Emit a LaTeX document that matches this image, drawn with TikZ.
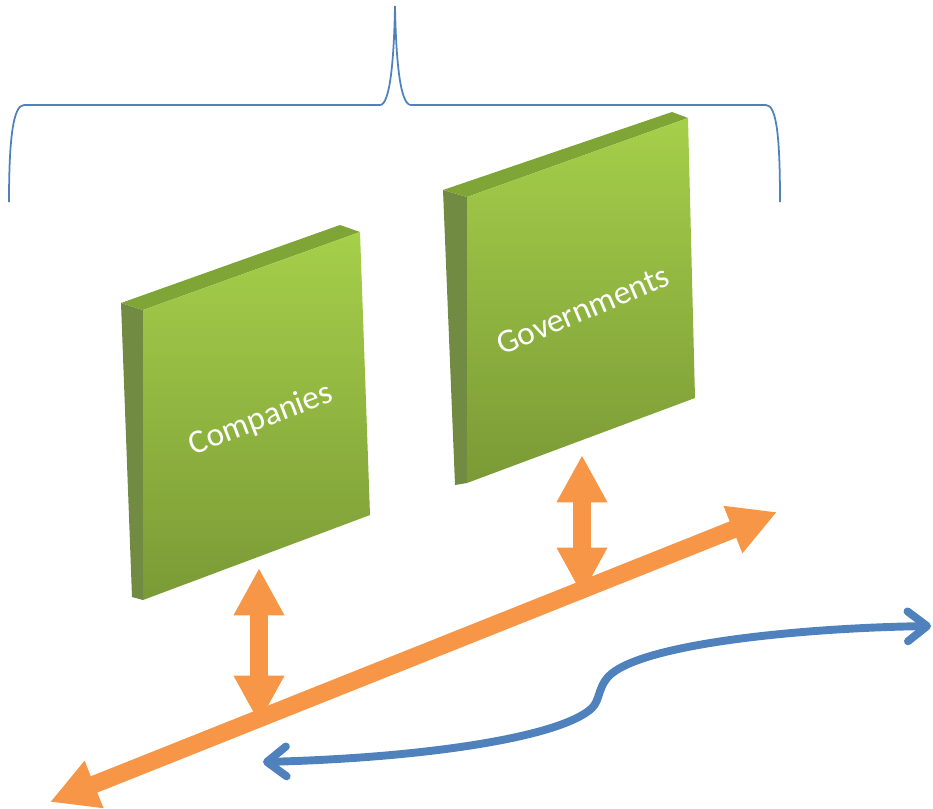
\documentclass[tikz,border=0pt]{standalone}
\usepackage{fontspec}
\setmainfont{Carlito}
\usetikzlibrary{arrows.meta}

\definecolor{bracecol}{HTML}{4F81BD}
\definecolor{linkcol}{HTML}{F79646}
\definecolor{slabtop}{HTML}{A6CF4A}
\definecolor{slabbot}{HTML}{7A9A36}
\definecolor{slabside}{HTML}{718C42}
\definecolor{slabedge}{HTML}{7FA536}

\tikzset{
	link/.style={line width=10pt, draw=linkcol, {Triangle[width=27pt,length=27pt]}-{Triangle[width=27pt,length=27pt]}},
	backlink/.style={line width=4.5pt, draw=bracecol, line cap=round, {Straight Barb[length=11pt,width=17pt,round]}-{Straight Barb[length=11pt,width=17pt,round]}},
	slablabel/.style={text=white, font=\fontsize{19}{22}\selectfont, inner sep=0pt},
}

\begin{document}
\begin{tikzpicture}[x=0.02cm,y=-0.02cm]
			\useasboundingbox (0,0) rectangle (933,808);
			% brace over both slabs
			\coordinate (bracetip) at (395,6);
			\draw[bracecol, line width=1pt] (9,202) .. controls (9,140) and (13,105) .. (24,105) -- (380,105) .. controls (390,105) and (394,60) .. (bracetip) .. controls (396,60) and (400,105) .. (411,105) -- (766,105) .. controls (777,105) and (780,140) .. (780,202);
			% Companies slab
			\fill[slabside] (121,303) -- (143,310) -- (143,600) -- (132,597) -- cycle;
			\fill[slabedge] (121,303) -- (340,225) -- (360,232) -- (143,310) -- cycle;
			\shade[top color=slabtop, bottom color=slabbot] (143,310) -- (360,232) -- (370,515) -- (143,600) -- cycle;
			\node[slablabel, rotate=21] (comp) at (261,420) {Companies};
			% Governments slab
			\fill[slabside] (443,190) -- (467,197) -- (467,483) -- (455,485) -- cycle;
			\fill[slabedge] (443,190) -- (672,112) -- (688,118) -- (467,197) -- cycle;
			\shade[top color=slabtop, bottom color=slabbot] (467,197) -- (688,118) -- (695,398) -- (467,483) -- cycle;
			\node[slablabel, rotate=23] (gov) at (583,310) {Governments};
			% orange axis and links
			\coordinate (axisL) at (50,802);
			\coordinate (axisR) at (777,512);
			\coordinate (compfoot) at (259,568);
			\coordinate (compaxis) at (259,723);
			\coordinate (govfoot) at (582,455);
			\coordinate (govaxis) at (582,595);
			\draw[link] (axisL) -- (axisR);
			\draw[link] (compfoot) -- (compaxis);
			\draw[link] (govfoot) -- (govaxis);
			% blue return path
			\coordinate (backL) at (263,762);
			\coordinate (backR) at (931,626);
			\draw[backlink] (backL) .. controls (420,758) and (560,738) .. (592,708) .. controls (600,700) and (598,688) .. (608,677) .. controls (638,644) and (800,628) .. (backR);
		\end{tikzpicture}
\end{document}
